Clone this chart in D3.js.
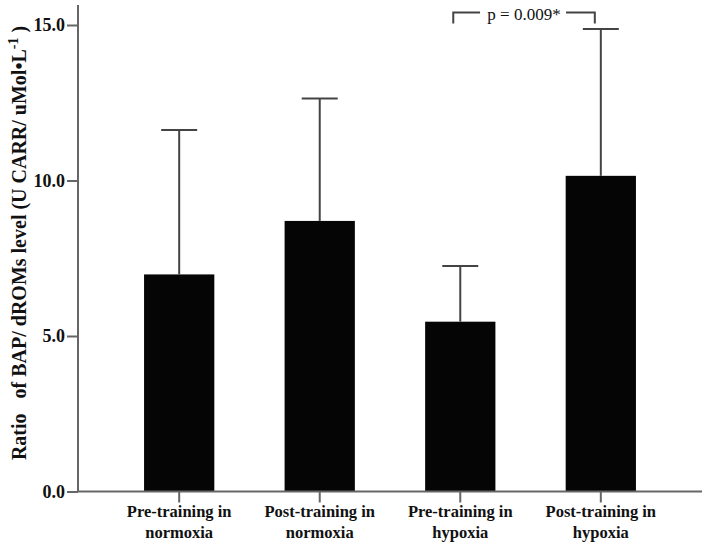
<!DOCTYPE html>
<html>
<head>
<meta charset="utf-8">
<script src="https://cdn.jsdelivr.net/npm/d3@7"></script>
<style>
  body { margin: 0; background: #fff; }
  text { font-family: "Liberation Serif", "Times New Roman", serif; font-weight: bold; fill: #111; }
</style>
</head>
<body>
<div id="chart"></div>
<script>
// data
const groups = [
  ['Pre-training in', 'normoxia'],
  ['Post-training in', 'normoxia'],
  ['Pre-training in', 'hypoxia'],
  ['Post-training in', 'hypoxia']
];
const means = [6.98, 8.70, 5.46, 10.15];
const upper = [11.62, 12.64, 7.25, 14.87];
const yTicks = [0, 5, 10, 15];
const sigLabel = 'p = 0.009*';

const W = 708, H = 547;
const x0 = 78, x1 = 702, yBase = 491.5, yTop = 25;

const svg = d3.select('#chart').append('svg')
  .attr('width', W).attr('height', H);

// scales
const x = d3.scaleBand()
  .domain(d3.range(groups.length))
  .range([x0, x1])
  .paddingInner(0.5)
  .paddingOuter(0.47);

const y = d3.scaleLinear().domain([0, 15]).range([yBase, yTop]);

const axisColor = '#666';

// bars
svg.selectAll('rect.bar')
  .data(means)
  .enter().append('rect')
  .attr('class', 'bar')
  .attr('x', (d, i) => x(i))
  .attr('width', x.bandwidth())
  .attr('y', d => y(d))
  .attr('height', d => yBase - y(d))
  .attr('fill', '#050505');

// error bars (upper only)
const cap = 18;
const err = svg.append('g').attr('stroke', '#444').attr('stroke-width', 2);
means.forEach((m, i) => {
  const cx = x(i) + x.bandwidth() / 2;
  err.append('line')
    .attr('x1', cx).attr('x2', cx)
    .attr('y1', y(m)).attr('y2', y(upper[i]));
  err.append('line')
    .attr('x1', cx - cap).attr('x2', cx + cap)
    .attr('y1', y(upper[i])).attr('y2', y(upper[i]));
});

// y axis
const yAxis = svg.append('g')
  .attr('transform', `translate(${x0},0)`)
  .call(d3.axisLeft(y).tickValues(yTicks).tickFormat(d3.format('.1f')).tickSize(11).tickPadding(2));
yAxis.select('.domain').remove();
yAxis.selectAll('line').attr('stroke', axisColor).attr('stroke-width', 2);
yAxis.selectAll('text').style('font-size', '18px').attr('fill', '#111');
svg.append('line')
  .attr('x1', x0).attr('x2', x0)
  .attr('y1', 5).attr('y2', yBase)
  .attr('stroke', axisColor).attr('stroke-width', 2);

// x axis
svg.append('line')
  .attr('x1', x0).attr('x2', x1)
  .attr('y1', yBase).attr('y2', yBase)
  .attr('stroke', axisColor).attr('stroke-width', 2);

const xt = svg.selectAll('g.xt')
  .data(groups)
  .enter().append('g')
  .attr('class', 'xt')
  .attr('transform', (d, i) => `translate(${x(i) + x.bandwidth() / 2},${yBase})`);
xt.append('line')
  .attr('y1', 0).attr('y2', 11)
  .attr('stroke', axisColor).attr('stroke-width', 2);
xt.append('text')
  .attr('text-anchor', 'middle')
  .attr('y', 25)
  .style('font-size', '16.5px')
  .text(d => d[0]);
xt.append('text')
  .attr('text-anchor', 'middle')
  .attr('y', 46)
  .style('font-size', '16.5px')
  .text(d => d[1]);

// y axis title
const yt = svg.append('text')
  .attr('transform', 'translate(26,243) rotate(-90)')
  .attr('text-anchor', 'middle')
  .style('white-space', 'pre')
  .style('font-size', '20px');
yt.append('tspan').text('Ratio   of BAP/ dROMs level (U CARR/ uMol\u2022L');
yt.append('tspan').attr('dy', -8).style('font-size', '14px').text('-1');
yt.append('tspan').attr('dy', 8).text(' )');

// significance bracket between bars 3 and 4
const bx1 = x(2) + x.bandwidth() / 2 - 7;
const bx2 = x(3) + x.bandwidth() / 2 - 6;
const by = 12.5, bh = 11;
const mid = (bx1 + bx2) / 2;
const sig = svg.append('g').attr('stroke', '#444').attr('stroke-width', 2).attr('fill', 'none');
sig.append('path').attr('d', `M${bx1},${by + bh}V${by}H${mid - 44}`);
sig.append('path').attr('d', `M${mid + 42},${by}H${bx2}V${by + bh}`);
svg.append('text')
  .attr('x', mid).attr('y', 20)
  .attr('text-anchor', 'middle')
  .style('font-size', '17px')
  .style('font-weight', 'normal')
  .text(sigLabel);
</script>
</body>
</html>
